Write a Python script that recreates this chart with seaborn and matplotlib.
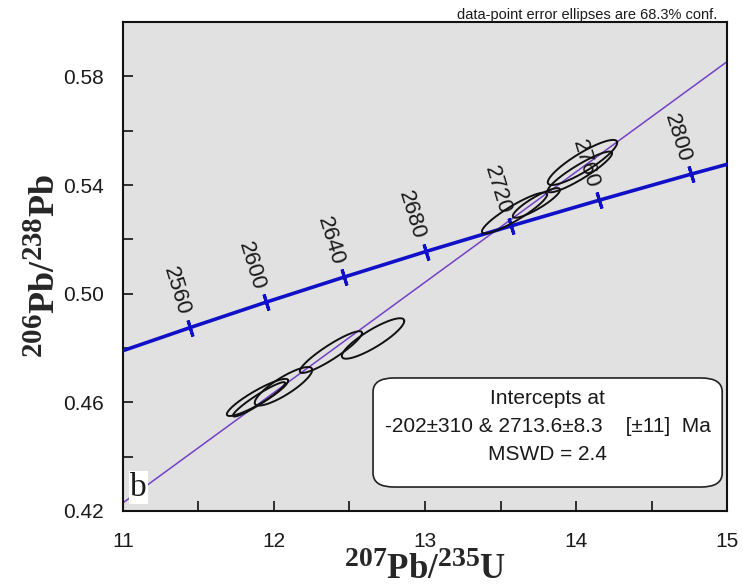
import numpy as np
import pandas as pd
import matplotlib
matplotlib.use("Agg")
import matplotlib.pyplot as plt
import seaborn as sns
from matplotlib.ticker import MultipleLocator, FormatStrFormatter
from matplotlib.patches import FancyBboxPatch

try:
    import matplotlib._mathtext as _mt
    _mt.SHRINK_FACTOR = 0.8
except Exception:
    pass

# ---------------- data ----------------
conc_age = [2520, 2560, 2600, 2640, 2680, 2720, 2760, 2800, 2840]
conc_x = [10.963, 11.444, 11.944, 12.464, 13.005, 13.568, 14.153, 14.762, 15.395]
conc_y = [0.4783, 0.4875, 0.4968, 0.5061, 0.5155, 0.5249, 0.5344, 0.5440, 0.5536]
label_ages = [2560, 2600, 2640, 2680, 2720, 2760, 2800]

disc_x = [11.0, 15.0]
disc_y = [0.4230, 0.5854]

ell_x = [11.891, 11.901, 12.063, 12.377, 12.656, 13.593, 13.738, 14.043, 14.026]
ell_sx = [0.203, 0.1726, 0.1905, 0.206, 0.2066, 0.2161, 0.1565, 0.2298, 0.2127]
ell_y = [0.4618, 0.4611, 0.4659, 0.4785, 0.4835, 0.5297, 0.5334, 0.5483, 0.5448]
ell_sy = [0.00683, 0.00632, 0.00710, 0.00768, 0.00745, 0.00753, 0.00545, 0.00830, 0.0075]
ell_rho = [0.905, 0.945, 0.850, 0.915, 0.865, 0.905, 0.885, 0.880, 0.915]

x_ticks = [11, 12, 13, 14, 15]
y_ticks = [0.42, 0.46, 0.50, 0.54, 0.58]

box_lines = ["Intercepts at",
             "-202\u00b1310 & 2713.6\u00b18.3    [\u00b111]  Ma",
             "MSWD = 2.4"]
note = "data-point error ellipses are 68.3% conf."

# ---------------- style ----------------
sns.set_theme(style="white")
plt.rcParams["font.family"] = ["Liberation Sans", "DejaVu Sans"]
plt.rcParams["mathtext.fontset"] = "custom"
plt.rcParams["mathtext.rm"] = "Liberation Serif:bold"
plt.rcParams["mathtext.it"] = "Liberation Serif:bold"
plt.rcParams["mathtext.bf"] = "Liberation Serif:bold"

BLUE = "#1010c8"
PURPLE = "#7340c8"
TXT = "#1a1a1a"

fig = plt.figure(figsize=(7.43, 5.87), dpi=100)
ax = fig.add_axes([0.1655, 0.1295, 0.813, 0.833])
ax.set_facecolor("#e1e1e1")
ax.set_xlim(11, 15)
ax.set_ylim(0.42, 0.60)

# discordia
disc = pd.DataFrame({"x": disc_x, "y": disc_y})
sns.lineplot(data=disc, x="x", y="y", sort=False, estimator=None,
             color=PURPLE, lw=1.1, ax=ax, zorder=2)

# concordia
conc = pd.DataFrame({"age": conc_age, "x": conc_x, "y": conc_y})
sns.lineplot(data=conc, x="x", y="y", sort=False, estimator=None,
             color=BLUE, lw=2.6, ax=ax, zorder=3)

# tick direction from display geometry
p0 = ax.transData.transform((conc_x[1], conc_y[1]))
p1 = ax.transData.transform((conc_x[-2], conc_y[-2]))
ang = np.degrees(np.arctan2(p1[1] - p0[1], p1[0] - p0[0]))
lab = conc[conc["age"].isin(label_ages)]
ax.plot(lab["x"], lab["y"], ls="none", marker=(2, 2, ang), ms=12, mew=2.2,
        color=BLUE, zorder=3)
for _, r in lab.iterrows():
    ax.annotate(str(int(r["age"])), (r["x"], r["y"]), xytext=(-10, 26),
                textcoords="offset points", rotation=ang - 90,
                rotation_mode="anchor", ha="center", va="center",
                fontsize=16, color=TXT, zorder=4)

# error ellipses
t = np.linspace(0, 2 * np.pi, 200)
for cx, sx, cy, sy, rho in zip(ell_x, ell_sx, ell_y, ell_sy, ell_rho):
    ex = cx + sx * np.cos(t)
    ey = cy + sy * (rho * np.cos(t) + np.sqrt(1 - rho ** 2) * np.sin(t))
    ax.plot(ex, ey, color="#111111", lw=1.4, zorder=5)

# axes styling
for s in ["top", "right", "left", "bottom"]:
    ax.spines[s].set_color("#111111")
    ax.spines[s].set_linewidth(1.5)
ax.xaxis.set_minor_locator(MultipleLocator(0.5))
ax.yaxis.set_minor_locator(MultipleLocator(0.02))
ax.set_xticks(x_ticks)
ax.set_yticks(y_ticks)
ax.yaxis.set_major_formatter(FormatStrFormatter("%.2f"))
ax.tick_params(which="both", direction="in", length=7, width=1.2,
               color="#111111", top=False, right=False, left=True, bottom=True)
ax.tick_params(axis="x", which="major", pad=15, labelsize=15, labelcolor=TXT)
ax.tick_params(axis="y", which="major", pad=14, labelsize=15, labelcolor=TXT)
ax.set_xlim(11, 15)
ax.set_ylim(0.42, 0.60)

ax.set_xlabel(r"$^{207}\mathrm{Pb/}^{235}\mathrm{U}$", fontsize=25, labelpad=0)
ax.set_ylabel(r"$^{206}\mathrm{Pb/}^{238}\mathrm{Pb}$", fontsize=26, labelpad=0)

# intercept box
box = FancyBboxPatch((0.414, 0.049), 0.578, 0.223, transform=ax.transAxes,
                     boxstyle="round,pad=0,rounding_size=0.035",
                     mutation_aspect=489 / 604,
                     facecolor="white", edgecolor="#222222", lw=1.2, zorder=6)
ax.add_patch(box)
for yy, line in zip([0.231, 0.172, 0.1145], box_lines):
    ax.text(0.703, yy, line, transform=ax.transAxes, ha="center", va="center",
            fontsize=15, color=TXT, zorder=7)

# panel letter
ax.text(0.012, 0.016, "b", transform=ax.transAxes, ha="left", va="bottom",
        fontsize=24, family=["Liberation Serif", "DejaVu Serif"], color=TXT,
        zorder=7, bbox=dict(facecolor="white", edgecolor="none", pad=1.0))

fig.text(0.965, 0.968, note, ha="right", va="baseline", fontsize=10.5, color=TXT)

fig.savefig("out.png", dpi=100, facecolor="white")
